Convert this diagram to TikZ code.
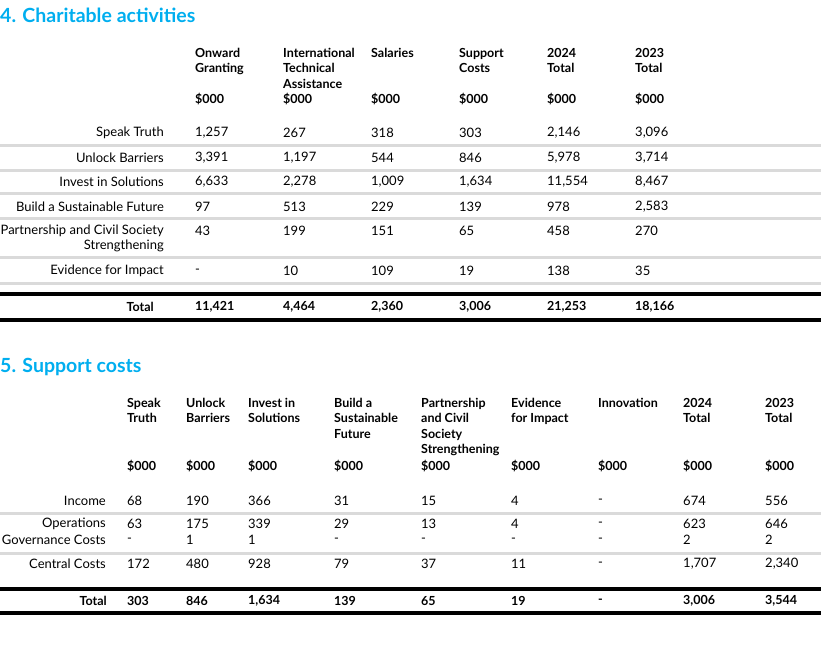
\documentclass[tikz,border=0pt]{standalone}
\usepackage{fontspec}
\setmainfont{Lato}
\definecolor{ttl}{RGB}{0,174,239}
\definecolor{sep}{RGB}{218,218,218}
\begin{document}
\begin{tikzpicture}[x=1pt,y=-1pt,
  every node/.style={inner sep=0pt,font=\fontsize{13}{15}\selectfont},
  cell/.style={anchor=west},
  lab/.style={anchor=east,align=right},
  hd/.style={anchor=north west,align=left,font=\fontsize{12.5}{15.3}\selectfont\bfseries},
  tot/.style={anchor=west,font=\fontsize{12.5}{15}\selectfont\bfseries},
  title/.style={anchor=west,text=ttl,font=\fontsize{19.5}{22}\selectfont\bfseries},
  grayrule/.style={draw=sep,line width=3pt},
  blackrule/.style={draw=black,line width=4pt}]
\useasboundingbox (0,0) rectangle (821,657);
% ---------- Section 4
\node[title] (t4) at (0,15) {4. Charitable activities};
\foreach \x/\t [count=\i] in {195/{Onward\\Granting},283/{International\\Technical\\Assistance},371/{Salaries},459/{Support\\Costs},547/{2024\\Total},635/{2023\\Total}}{
  \node[hd] (h4\i) at (\x,48) {\t};
  \node[hd] (d4\i) at (\x,93) {\$000};
}
\foreach \y in {145,170,193,218,257,283}{\coordinate (ga\y) at (0,\y); \coordinate (gb\y) at (821,\y); \draw[grayrule] (ga\y) -- (gb\y);}
\foreach \y in {294,320}{\coordinate (ba\y) at (0,\y); \coordinate (bb\y) at (821,\y); \draw[blackrule] (ba\y) -- (bb\y);}
\foreach \y/\l/\a/\b/\c/\d/\e/\f [count=\r] in {
 133/{Speak Truth}/{1,257}/267/318/303/{2,146}/{3,096},
 158/{Unlock Barriers}/{3,391}/{1,197}/544/846/{5,978}/{3,714},
 182/{Invest in Solutions}/{6,633}/{2,278}/{1,009}/{1,634}/{11,554}/{8,467},
 207/{Build a Sustainable Future}/97/513/229/139/978/{2,583},
 231/{Partnership and Civil Society}/43/199/151/65/458/270,
 271/{Evidence for Impact}/-/10/109/19/138/35}{
  \node[lab] (l4\r) at (164,\y) {\l};
  \node[cell] (a4\r) at (195,\y) {\a};
  \node[cell] (b4\r) at (283,\y) {\b};
  \node[cell] (c4\r) at (371,\y) {\c};
  \node[cell] (e4\r) at (459,\y) {\d};
  \node[cell] (f4\r) at (547,\y) {\e};
  \node[cell] (g4\r) at (635,\y) {\f};
}
\node[lab] (l4x) at (164,246) {Strengthening};
\node[lab,font=\fontsize{12.5}{15}\selectfont\bfseries] (l4t) at (154,307) {Total};
\foreach \x/\v [count=\i] in {195/{11,421},283/{4,464},371/{2,360},459/{3,006},547/{21,253},635/{18,166}}{
  \node[tot] (t4\i) at (\x,307) {\v};
}
% ---------- Section 5
\node[title] (t5) at (0,367) {5. Support costs};
\foreach \x/\t [count=\i] in {127/{Speak\\Truth},186/{Unlock\\Barriers},248/{Invest in\\Solutions},334/{Build a\\Sustainable\\Future},421/{Partnership\\and Civil\\Society\\Strengthening},511/{Evidence\\for Impact},598/{Innovation},683/{2024\\Total},765/{2023\\Total}}{
  \node[hd] (h5\i) at (\x,398) {\t};
}
\foreach \x [count=\i] in {127,186,248,334,421,511,598,683,765}{
  \node[hd] (d5\i) at (\x,460) {\$000};
}
\foreach \y in {513,553}{\coordinate (gc\y) at (0,\y); \coordinate (gd\y) at (821,\y); \draw[grayrule] (gc\y) -- (gd\y);}
\foreach \y in {589,613}{\coordinate (bc\y) at (0,\y); \coordinate (bd\y) at (821,\y); \draw[blackrule] (bc\y) -- (bd\y);}
\foreach \y/\l/\a/\b/\c/\d/\e/\f/\g/\h/\k [count=\r] in {
 501/Income/68/190/366/31/15/4/-/674/556,
 524/Operations/63/175/339/29/13/4/-/623/646,
 540/{Governance Costs}/-/1/1/-/-/-/-/2/2,
 564/{Central Costs}/172/480/928/79/37/11/-/{1,707}/{2,340}}{
  \node[lab] (l5\r) at (106,\y) {\l};
  \node[cell] (a5\r) at (127,\y) {\a};
  \node[cell] (b5\r) at (186,\y) {\b};
  \node[cell] (c5\r) at (248,\y) {\c};
  \node[cell] (e5\r) at (334,\y) {\d};
  \node[cell] (f5\r) at (421,\y) {\e};
  \node[cell] (g5\r) at (511,\y) {\f};
  \node[cell] (i5\r) at (598,\y) {\g};
  \node[cell] (j5\r) at (683,\y) {\h};
  \node[cell] (k5\r) at (765,\y) {\k};
}
\node[lab,font=\fontsize{12.5}{15}\selectfont\bfseries] (l5t) at (107,601) {Total};
\foreach \x/\v [count=\i] in {127/303,186/846,248/{1,634},334/139,421/65,511/19,598/-,683/{3,006},765/{3,544}}{
  \node[tot] (t5\i) at (\x,601) {\v};
}
\end{tikzpicture}
\end{document}
